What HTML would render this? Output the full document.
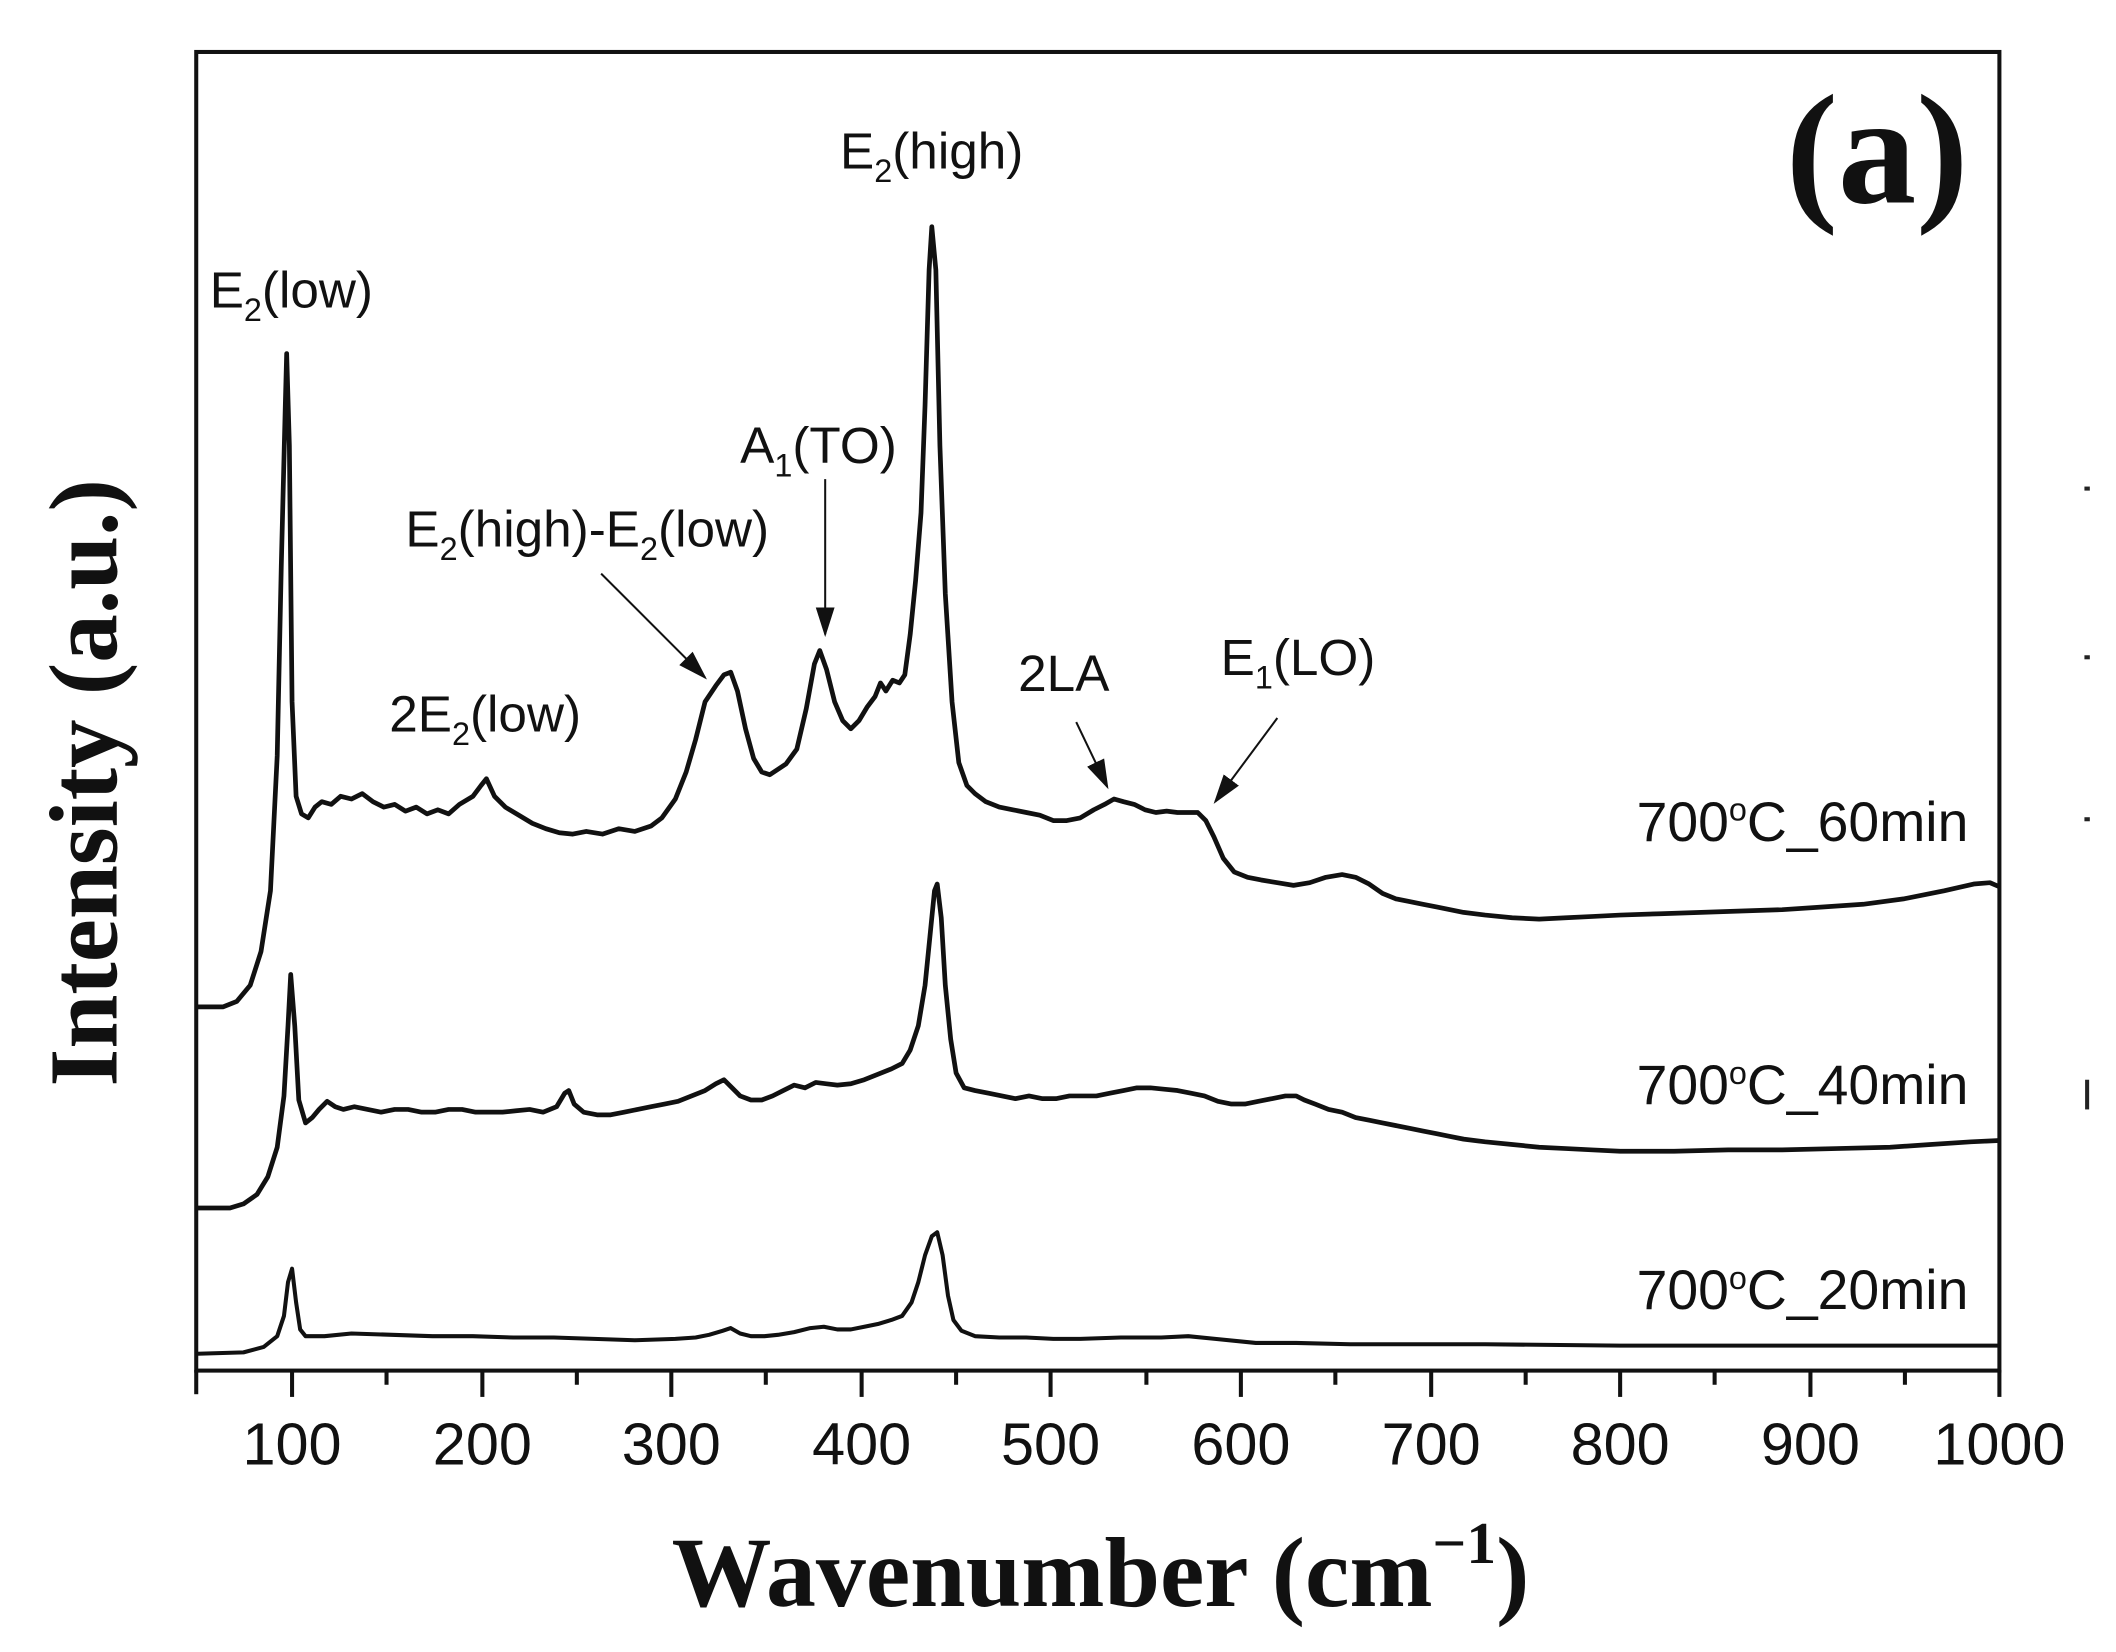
<!DOCTYPE html>
<html><head><meta charset="utf-8"><style>
html,body{margin:0;padding:0;background:#fff}
svg{display:block}
.t{font-family:"Liberation Sans",sans-serif;fill:#111}
.s{font-family:"Liberation Serif",serif;font-weight:bold;fill:#111}
</style></head><body>
<svg width="2116" height="1652" viewBox="0 0 1567 1224" xmlns="http://www.w3.org/2000/svg">
<rect width="1567" height="1224" fill="#fff"/>
<defs>
<marker id="ah2" markerWidth="22" markerHeight="16" refX="20" refY="8" orient="auto" markerUnits="userSpaceOnUse"><path d="M0,1 L22,8 L0,15 z" fill="#111"/></marker></defs>
<rect x="145" y="38.5" width="1336" height="977" fill="none" stroke="#111" stroke-width="3"/>
<g stroke="#111" stroke-width="3">
<line x1="145" y1="1015" x2="145" y2="1033"/>
<line x1="216" y1="1015" x2="216" y2="1035"/><line x1="286" y1="1015" x2="286" y2="1026"/>
<line x1="357" y1="1015" x2="357" y2="1035"/><line x1="427" y1="1015" x2="427" y2="1026"/>
<line x1="497" y1="1015" x2="497" y2="1035"/><line x1="567" y1="1015" x2="567" y2="1026"/>
<line x1="638" y1="1015" x2="638" y2="1035"/><line x1="708" y1="1015" x2="708" y2="1026"/>
<line x1="778" y1="1015" x2="778" y2="1035"/><line x1="849" y1="1015" x2="849" y2="1026"/>
<line x1="919" y1="1015" x2="919" y2="1035"/><line x1="989" y1="1015" x2="989" y2="1026"/>
<line x1="1060" y1="1015" x2="1060" y2="1035"/><line x1="1130" y1="1015" x2="1130" y2="1026"/>
<line x1="1200" y1="1015" x2="1200" y2="1035"/><line x1="1270" y1="1015" x2="1270" y2="1026"/>
<line x1="1341" y1="1015" x2="1341" y2="1035"/><line x1="1411" y1="1015" x2="1411" y2="1026"/>
<line x1="1481" y1="1015" x2="1481" y2="1035"/>
</g>
<g class="t" font-size="44" text-anchor="middle">
<text x="216" y="1085">100</text><text x="357" y="1085">200</text><text x="497" y="1085">300</text>
<text x="638" y="1085">400</text><text x="778" y="1085">500</text><text x="919" y="1085">600</text>
<text x="1060" y="1085">700</text><text x="1200" y="1085">800</text><text x="1341" y="1085">900</text>
<text x="1481" y="1085">1000</text>
</g>
<text class="s" x="815" y="1190" font-size="74" text-anchor="middle">Wavenumber (cm<tspan dy="-32" font-size="44">−1</tspan><tspan dy="32">)</tspan></text>
<text class="s" transform="translate(86,580) rotate(-90)" font-size="72" text-anchor="middle">Intensity (a.u.)</text>
<text class="s" x="1458" y="150" font-size="116" text-anchor="end">(a)</text>
<g fill="none" stroke="#111" stroke-linejoin="round">
<polyline stroke-width="3.5" points="146,746 165,746 175,742 185,730 193,705 200,660 205,560 208,420 211,300 212,262 214,330 216,520 219,590 223,603 228,606 233,598 238,594 245,596 252,590 260,592 268,588 276,594 284,598 292,596 300,601 308,598 316,603 324,600 332,603 340,596 350,590 356,582 360,577 366,590 374,598 384,604 394,610 404,614 414,617 424,618 434,616 446,618 458,614 470,616 482,612 490,606 500,592 508,572 515,548 522,520 530,508 536,500 541,498 546,512 552,540 558,562 564,572 570,574 576,570 582,566 590,555 597,525 603,492 607,482 612,496 618,520 624,534 630,540 636,534 642,524 648,516 652,506 656,512 661,504 666,506 670,500 674,470 678,430 682,380 685,300 688,200 690,168 693,200 696,330 700,440 705,520 710,565 716,582 722,588 730,594 740,598 750,600 760,602 770,604 780,608 790,608 800,606 810,600 818,596 825,592 832,594 840,596 848,600 856,602 864,601 872,602 880,602 887,602 893,608 899,620 906,636 914,646 924,650 934,652 946,654 958,656 970,654 982,650 994,648 1004,650 1014,655 1024,662 1034,666 1044,668 1054,670 1064,672 1074,674 1084,676 1100,678 1120,680 1140,681 1160,680 1180,679 1200,678 1230,677 1260,676 1290,675 1320,674 1350,672 1380,670 1410,666 1440,660 1462,655 1474,654 1481,657"/>
<polyline stroke-width="3.5" points="146,895 170,895 180,892 190,885 198,872 205,850 210,812 213,760 215,722 218,760 221,815 226,832 231,828 236,822 242,816 248,820 254,822 262,820 272,822 282,824 292,822 302,822 312,824 322,824 332,822 342,822 352,824 362,824 372,824 382,823 392,822 402,824 412,820 418,810 421,808 425,818 432,824 442,826 452,826 462,824 472,822 482,820 492,818 502,816 512,812 522,808 530,803 536,800 542,806 548,812 556,815 564,815 572,812 580,808 588,804 596,806 604,802 612,803 620,804 630,803 640,800 650,796 660,792 668,788 674,778 680,760 685,730 689,690 692,660 694,655 697,680 700,730 704,770 708,795 714,806 722,808 732,810 742,812 752,814 762,812 772,814 782,814 792,812 802,812 812,812 822,810 832,808 842,806 852,806 862,807 872,808 882,810 892,812 902,816 912,818 922,818 932,816 942,814 952,812 960,812 966,815 974,818 984,822 994,824 1004,828 1014,830 1024,832 1034,834 1044,836 1054,838 1064,840 1074,842 1084,844 1100,846 1120,848 1140,850 1160,851 1180,852 1200,853 1240,853 1280,852 1320,852 1360,851 1400,850 1430,848 1460,846 1481,845"/>
<polyline stroke-width="3" points="146,1003 180,1002 195,998 205,990 210,975 213,950 216,940 219,965 222,985 226,990 240,990 260,988 290,989 320,990 350,990 380,991 410,991 440,992 470,993 500,992 515,991 525,989 535,986 541,984 548,988 556,990 566,990 576,989 588,987 600,984 610,983 620,985 630,985 640,983 650,981 660,978 668,975 675,965 680,950 685,930 690,916 694,913 698,930 702,960 706,978 712,986 722,990 740,991 760,991 780,992 800,992 830,991 860,991 880,990 900,992 930,995 960,995 1000,996 1100,996 1200,997 1300,997 1400,997 1481,997"/>
</g>
<g class="t" font-size="38">
<text x="622" y="125">E<tspan dy="10" font-size="24">2</tspan><tspan dy="-10">(high)</tspan></text>
<text x="155" y="228">E<tspan dy="10" font-size="24">2</tspan><tspan dy="-10">(low)</tspan></text>
<text x="548" y="343">A<tspan dy="10" font-size="24">1</tspan><tspan dy="-10">(TO)</tspan></text>
<text x="300" y="405">E<tspan dy="10" font-size="24">2</tspan><tspan dy="-10">(high)-E</tspan><tspan dy="10" font-size="24">2</tspan><tspan dy="-10">(low)</tspan></text>
<text x="288" y="542">2E<tspan dy="10" font-size="24">2</tspan><tspan dy="-10">(low)</tspan></text>
<text x="754" y="512">2LA</text>
<text x="904" y="500">E<tspan dy="10" font-size="24">1</tspan><tspan dy="-10">(LO)</tspan></text>
</g>
<g class="t" font-size="41" text-anchor="end">
<text x="1458" y="623">700<tspan dy="-15" font-size="24">o</tspan><tspan dy="15">C_60min</tspan></text>
<text x="1458" y="818">700<tspan dy="-15" font-size="24">o</tspan><tspan dy="15">C_40min</tspan></text>
<text x="1458" y="970">700<tspan dy="-15" font-size="24">o</tspan><tspan dy="15">C_20min</tspan></text>
</g>
<g stroke="#111" stroke-width="1.5">
<line x1="445" y1="425" x2="522" y2="502" marker-end="url(#ah2)"/>
<line x1="611" y1="355" x2="611" y2="470" marker-end="url(#ah2)"/>
<line x1="797" y1="535" x2="820" y2="583" marker-end="url(#ah2)"/>
<line x1="946" y1="532" x2="900" y2="594" marker-end="url(#ah2)"/>
</g>
<g stroke="#222" stroke-width="3">
<line x1="1544" y1="362" x2="1548" y2="362"/><line x1="1544" y1="487" x2="1548" y2="487"/>
<line x1="1544" y1="607" x2="1548" y2="607"/><line x1="1546" y1="800" x2="1546" y2="822"/>
</g>
</svg>
</body></html>
